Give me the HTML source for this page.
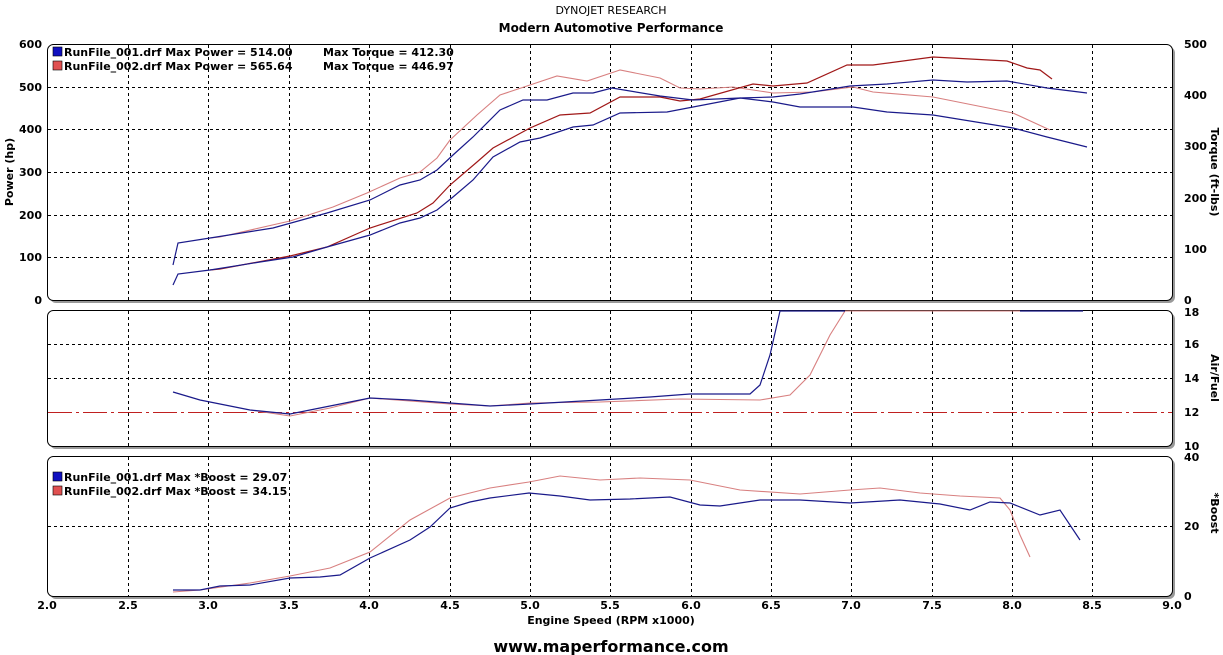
<!DOCTYPE html>
<html><head><meta charset="utf-8"><style>
body{margin:0;background:#fff;}
svg{display:block;font-family:"DejaVu Sans","Liberation Sans",sans-serif;}
.t{font-size:11px;font-weight:bold;fill:#000}
.g{stroke:#000;stroke-width:1;stroke-dasharray:3,3;shape-rendering:crispEdges}
.bl{fill:none;stroke:#1a1a8a;stroke-width:1.2}
.rd{fill:none;stroke:#a01818;stroke-width:1.2}
.rl{fill:none;stroke:#d88080;stroke-width:1.1}
</style></head><body>
<svg width="1223" height="655" viewBox="0 0 1223 655">
<text x="611" y="14" text-anchor="middle" style="font-size:11px" fill="#000">DYNOJET RESEARCH</text>
<text x="611" y="32" text-anchor="middle" class="t" style="font-size:12px">Modern Automotive Performance</text>
<rect x="50" y="47" width="1125" height="256" rx="6" fill="#999"/>
<rect x="47.5" y="44.5" width="1125" height="256" rx="6" fill="#fff" stroke="#000"/>
<rect x="50" y="313" width="1125" height="136" rx="6" fill="#999"/>
<rect x="47.5" y="310.5" width="1125" height="136" rx="6" fill="#fff" stroke="#000"/>
<rect x="50" y="459" width="1125" height="140" rx="6" fill="#999"/>
<rect x="47.5" y="456.5" width="1125" height="140" rx="6" fill="#fff" stroke="#000"/>
<g class="g">
<path d="M128.5 45V300M208.5 45V300M289.5 45V300M369.5 45V300M450.5 45V300M530.5 45V300M610.5 45V300M691.5 45V300M771.5 45V300M851.5 45V300M932.5 45V300M1012.5 45V300M1092.5 45V300"/>
<path d="M48 87.5H1172M48 129.5H1172M48 172.5H1172M48 215.5H1172M48 257.5H1172"/>
<path d="M128.5 311V446M208.5 311V446M289.5 311V446M369.5 311V446M450.5 311V446M530.5 311V446M610.5 311V446M691.5 311V446M771.5 311V446M851.5 311V446M932.5 311V446M1012.5 311V446M1092.5 311V446"/>
<path d="M48 344.5H1172M48 378.5H1172"/>
<path d="M128.5 457V596M208.5 457V596M289.5 457V596M369.5 457V596M450.5 457V596M530.5 457V596M610.5 457V596M691.5 457V596M771.5 457V596M851.5 457V596M932.5 457V596M1012.5 457V596M1092.5 457V596"/>
<path d="M48 526.5H1172"/>
</g>
<path d="M48 412.5H1172" stroke="#c02020" stroke-width="1" stroke-dasharray="24,4,3,4" shape-rendering="crispEdges"/>
<g class="t" text-anchor="end">
<text x="42" y="48">600</text><text x="42" y="91">500</text><text x="42" y="133">400</text><text x="42" y="176">300</text><text x="42" y="219">200</text><text x="42" y="261">100</text><text x="42" y="304">0</text>
</g>
<g class="t">
<text x="1184" y="48">500</text><text x="1184" y="99">400</text><text x="1184" y="150">300</text><text x="1184" y="202">200</text><text x="1184" y="253">100</text><text x="1184" y="304">0</text>
<text x="1184" y="316">18</text><text x="1184" y="348">16</text><text x="1184" y="382">14</text><text x="1184" y="416">12</text><text x="1184" y="450">10</text>
<text x="1184" y="461">40</text><text x="1184" y="530">20</text><text x="1184" y="600">0</text>
</g>
<text class="t" transform="translate(13,172) rotate(-90)" text-anchor="middle">Power (hp)</text>
<text class="t" transform="translate(1211,172) rotate(90)" text-anchor="middle">Torque (ft-lbs)</text>
<text class="t" transform="translate(1211,378) rotate(90)" text-anchor="middle">Air/Fuel</text>
<text class="t" transform="translate(1211,513) rotate(90)" text-anchor="middle">*Boost</text>
<g class="t" text-anchor="middle">
<text x="47" y="609">2.0</text><text x="128" y="609">2.5</text><text x="208" y="609">3.0</text><text x="289" y="609">3.5</text><text x="369" y="609">4.0</text><text x="450" y="609">4.5</text><text x="530" y="609">5.0</text><text x="610" y="609">5.5</text><text x="691" y="609">6.0</text><text x="771" y="609">6.5</text><text x="851" y="609">7.0</text><text x="932" y="609">7.5</text><text x="1012" y="609">8.0</text><text x="1092" y="609">8.5</text><text x="1172" y="609">9.0</text>
<text x="611" y="624">Engine Speed (RPM x1000)</text>
<text x="611" y="652" style="font-size:16px">www.maperformance.com</text>
</g>
<rect x="53" y="47" width="9" height="9" fill="#1010c0" stroke="#000" stroke-width=".6"/>
<rect x="53" y="61" width="9" height="9" fill="#e05050" stroke="#000" stroke-width=".6"/>
<text class="t" x="64" y="56">RunFile_001.drf Max Power = 514.00</text><text class="t" x="323" y="56">Max Torque = 412.30</text>
<text class="t" x="64" y="70">RunFile_002.drf Max Power = 565.64</text><text class="t" x="323" y="70">Max Torque = 446.97</text>
<rect x="53" y="472" width="9" height="9" fill="#1010c0" stroke="#000" stroke-width=".6"/>
<rect x="53" y="486" width="9" height="9" fill="#e05050" stroke="#000" stroke-width=".6"/>
<text class="t" x="64" y="481">RunFile_001.drf Max *Boost = 29.07</text>
<text class="t" x="64" y="495">RunFile_002.drf Max *Boost = 34.15</text>
<!-- top series -->
<polyline class="rl" points="210,238 220,237 290,221 333,207 367,193 400,178 420,172 437,158 450,140 477,115 500,95 530,85 557,76 587,81 617,71 620,70 660,78 680,88 700,89 733,87 773,93 813,92 853,87 873,92 933,97 1013,113 1050,130"/>
<polyline class="rd" points="210,270 220,269 290,256 327,247 370,228 417,213 433,203 450,185 477,162 493,148 530,128 560,115 590,113 620,97 660,97 680,101 700,99 753,84 773,86 807,83 847,65 873,65 933,57 1007,61 1027,68 1040,70 1052,79"/>
<polyline class="bl" points="173,265 178,243 210,238 273,228 327,213 370,200 400,185 420,180 437,170 453,155 473,137 500,110 523,100 547,100 573,93 593,93 612,88 660,96 693,100 740,98 773,102 800,107 853,107 887,112 933,115 1013,128 1047,137 1087,147"/>
<polyline class="bl" points="173,285 178,274 210,270 260,262 293,257 327,247 370,235 400,223 420,218 437,210 453,197 473,180 493,157 520,142 540,138 573,127 593,125 620,113 667,112 740,98 773,97 800,94 850,86 887,84 933,80 967,82 1007,81 1047,88 1087,93"/>
<!-- AFR -->
<polyline class="rl" points="250,410 290,416 330,408 370,398 410,401 450,404 490,406 530,403 600,402 680,399 760,400 790,395 810,375 830,335 845,311 1020,311"/>
<polyline class="bl" points="173,392 200,400 250,410 290,414 330,406 370,398 410,400 450,403 490,406 530,404 600,400 650,397 690,394 750,394 760,385 770,355 780,311 845,311"/>
<polyline class="bl" points="1020,311 1083,311"/>
<!-- boost -->
<polyline class="rl" points="173,592 200,590 250,583 290,576 330,568 370,552 410,520 450,498 490,488 529,482 560,476 600,480 640,478 690,480 740,490 800,494 850,490 880,488 920,493 960,496 1000,498 1010,510 1020,535 1030,557"/>
<polyline class="bl" points="173,590 200,590 220,586 250,585 290,578 320,577 340,575 370,558 410,540 430,527 450,508 470,502 490,498 529,493 560,496 590,500 630,499 670,497 700,505 720,506 760,500 800,500 850,503 900,500 940,504 970,510 990,502 1010,503 1040,515 1060,510 1080,540"/>
</svg>
</body></html>
